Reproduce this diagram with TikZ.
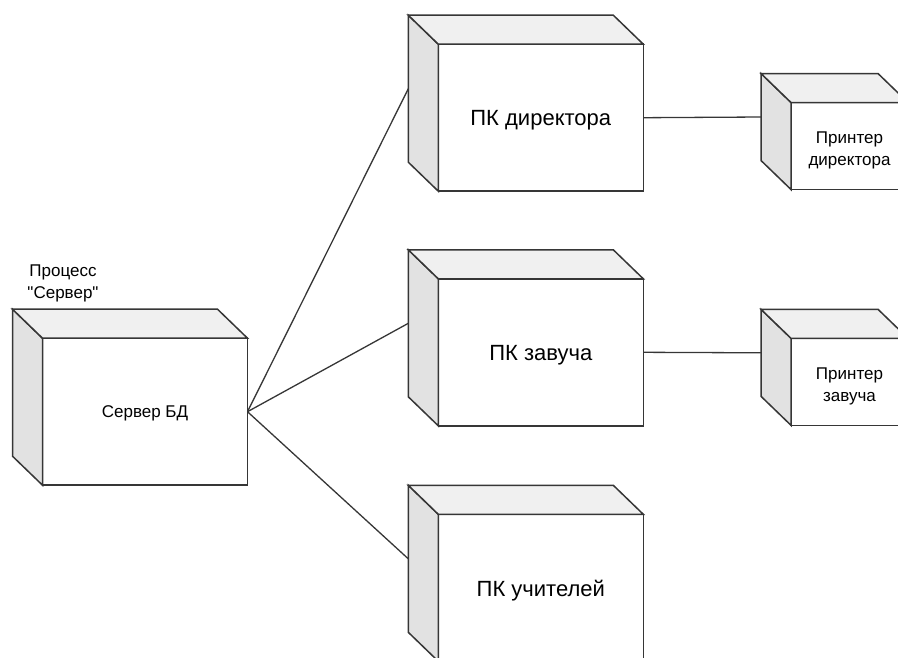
\documentclass[tikz,border=0pt]{standalone}
\usepackage{fontspec}
\setmainfont{Liberation Sans}
% same face without the TeX quote mapping, so that " stays straight
\newfontfamily\straightquotes{Liberation Sans}
\usetikzlibrary{calc}

\definecolor{edge}{HTML}{363636}
\definecolor{topshade}{HTML}{F0F0F0}
\definecolor{sideshade}{HTML}{E2E2E2}

\tikzset{
  front/.style={draw=edge, line width=1.5pt, fill=white, rectangle,
    inner sep=0pt, outer sep=0pt},
  bignode/.style={front, minimum width=205, minimum height=147},
  smallnode/.style={front, minimum width=117, minimum height=87},
  bigtext/.style={align=center, inner sep=0pt, text=black,
    font=\fontsize{22}{26}\selectfont},
  smalltext/.style={align=center, inner sep=0pt, text=black,
    font=\fontsize{17}{22}\selectfont},
  depthface/.style={draw=edge, line width=1.5pt, line join=miter},
  link/.style={draw=edge, line width=1.3pt},
}

% side and top faces behind the front face, plus the back-left anchor (#1-back)
\newcommand\nodedepth[1]{%
  \filldraw[depthface, fill=sideshade]
    (#1.north west) -- ++(-30,-29) -- ($(#1.south west)+(-30,-29)$)
    -- (#1.south west) -- cycle;
  \filldraw[depthface, fill=topshade]
    (#1.north west) -- ++(-30,-29) -- ($(#1.north east)+(-30,-29)$)
    -- (#1.north east) -- cycle;
  \coordinate (#1-back) at ($(#1.west)+(-30,-29)$);
}

\begin{document}
\begin{tikzpicture}[x=1pt, y=-1pt]
  \useasboundingbox (0,0) rectangle (898,657);
  \clip (0,0) rectangle (898,657);

  % front faces of the deployment nodes
  \node[bignode] (server) at (145,411.7) {};
  \node[bignode] (pcdir) at (540.8,117.7) {};
  \node[bignode] (pczav) at (540.8,352.3) {};
  \node[bignode] (pcuch) at (540.8,587.8) {};
  \node[smallnode] (prdir) at (849.5,146) {};
  \node[smallnode] (przav) at (849.5,381.8) {};

  \foreach \n in {server,pcdir,pczav,pcuch,prdir,przav} {\nodedepth{\n}}

  % node names
  \node[smalltext] (server-t) at ($(server)+(0,1.5)$) {Сервер БД};
  \node[bigtext] (pcdir-t) at ($(pcdir)+(0,2.5)$) {ПК директора};
  \node[bigtext] (pczav-t) at ($(pczav)+(0,2.5)$) {ПК завуча};
  \node[bigtext] (pcuch-t) at ($(pcuch)+(0,2.5)$) {ПК учителей};
  \node[smalltext] (prdir-t) at ($(prdir)+(0,4.5)$) {Принтер\\директора};
  \node[smalltext] (przav-t) at ($(przav)+(0,4.5)$) {Принтер\\завуча};

  % stereotype label of the server
  \node[smalltext, font=\fontsize{17}{22}\straightquotes] (proc) at (63,283)
    {Процесс\\"Сервер"};

  % connections
  \draw[link] (server.east) -- (pcdir-back);
  \draw[link] (server.east) -- (pczav-back);
  \draw[link] (server.east) -- (pcuch-back);
  \draw[link] (pcdir.east) -- (prdir-back);
  \draw[link] (pczav.east) -- (przav-back);
\end{tikzpicture}
\end{document}
